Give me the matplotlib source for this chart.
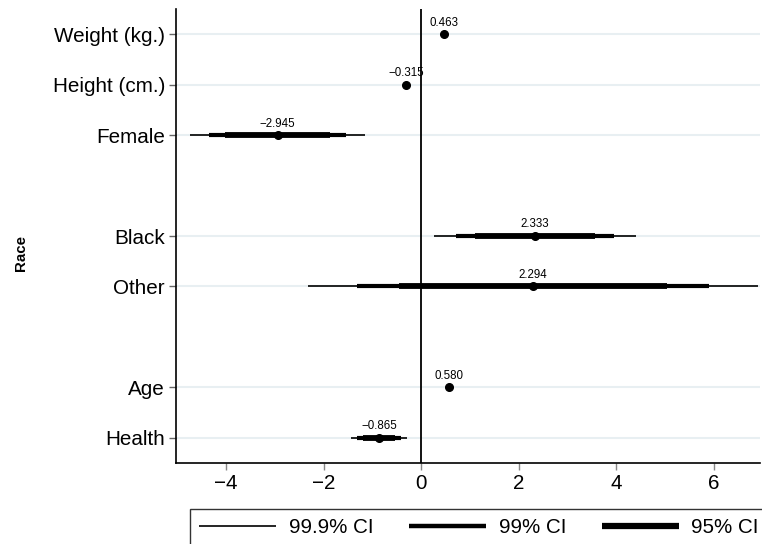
import matplotlib
matplotlib.use("Agg")
import matplotlib.pyplot as plt
from matplotlib.lines import Line2D

plt.rcParams['font.family'] = ['Liberation Sans', 'DejaVu Sans']

labels = ["Weight (kg.)", "Height (cm.)", "Female", "Black", "Other", "Age", "Health"]
positions = [0, 1, 2, 4, 5, 7, 8]
coefs = [0.463, -0.315, -2.945, 2.333, 2.294, 0.580, -0.865]
coef_text = ["0.463", "\u22120.315", "\u22122.945", "2.333", "2.294", "0.580", "\u22120.865"]
ci95_lo = [0.44, -0.34, -4.02, 1.10, -0.45, 0.56, -1.20]
ci95_hi = [0.49, -0.29, -1.87, 3.57, 5.04, 0.60, -0.53]
ci99_lo = [0.43, -0.35, -4.35, 0.71, -1.31, 0.55, -1.31]
ci99_hi = [0.50, -0.28, -1.54, 3.95, 5.90, 0.61, -0.42]
ci999_lo = [0.42, -0.36, -4.74, 0.26, -2.33, 0.54, -1.44]
ci999_hi = [0.51, -0.27, -1.15, 4.41, 6.91, 0.62, -0.29]
xticks = [-4, -2, 0, 2, 4, 6]
group_label = "Race"
legend_labels = ["99.9% CI", "99% CI", "95% CI"]

fig = plt.figure(figsize=(7.62, 5.44), dpi=100)
ax = fig.add_axes([176/762, 1-463/544, 584/762, (463-9)/544])

grid_col = "#e8eff2"
for p in positions:
    ax.axhline(p, color=grid_col, lw=1.5, zorder=0)
ax.axvline(0, color="black", lw=1.3, zorder=1)

for i, p in enumerate(positions):
    ax.plot([ci999_lo[i], ci999_hi[i]], [p, p], color="black", lw=1.2, solid_capstyle="butt", zorder=2)
    ax.plot([ci99_lo[i], ci99_hi[i]], [p, p], color="black", lw=3.0, solid_capstyle="butt", zorder=3)
    ax.plot([ci95_lo[i], ci95_hi[i]], [p, p], color="black", lw=4.2, solid_capstyle="butt", zorder=4)
    ax.plot(coefs[i], p, "o", color="black", ms=5.5, zorder=5)
    ax.annotate(coef_text[i], (coefs[i], p), xytext=(0, 4), textcoords="offset points",
                ha="center", va="bottom", fontsize=8.3, zorder=6)

ax.set_xlim(-5.03, 6.95)
ax.set_ylim(8.5, -0.5)
ax.set_yticks(positions)
ax.set_yticklabels(labels, fontsize=14.9)
ax.set_xticks(xticks)
ax.set_xticklabels([str(t).replace("-", "\u2212") for t in xticks], fontsize=14.9)
ax.tick_params(axis="y", length=5, width=1, color="#666666", pad=3)
ax.tick_params(axis="x", length=5, width=1, color="#888888", pad=3)
for s in ["top", "right"]:
    ax.spines[s].set_visible(False)
for s in ["left", "bottom"]:
    ax.spines[s].set_linewidth(1.2)

fig.text(21/762, 1-253/544, group_label, rotation=90, ha="center", va="center",
         fontsize=10.8, fontweight="bold")

handles = [Line2D([], [], color="black", lw=1.2, solid_capstyle="butt"),
           Line2D([], [], color="black", lw=3.2, solid_capstyle="butt"),
           Line2D([], [], color="black", lw=4.5, solid_capstyle="butt")]
leg = fig.legend(handles, legend_labels, loc="upper left", bbox_to_anchor=(190/762, 1-509/544),
                 borderaxespad=0, ncol=3, frameon=True, fontsize=14.8, handlelength=3.75,
                 columnspacing=1.75, handletextpad=0.6, borderpad=0.45, fancybox=False,
                 edgecolor="black")
leg.get_frame().set_linewidth(1.0)

fig.savefig("out.png", dpi=100)
